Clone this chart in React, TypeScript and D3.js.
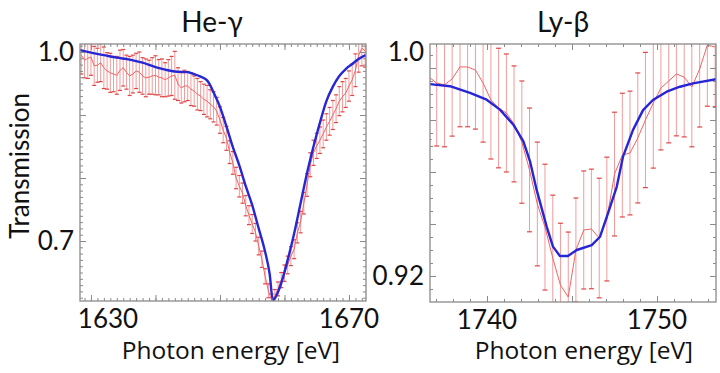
import React, { useEffect, useRef } from 'react'
import * as d3 from 'd3'

// He-gamma: measured transmission (0.5 eV steps), its error, and the fit
const heEnergy = [
  1628.5, 1629.0, 1629.5, 1630.0, 1630.5, 1631.0, 1631.5, 1632.0, 1632.5, 1633.0,
  1633.5, 1634.0, 1634.5, 1635.0, 1635.5, 1636.0, 1636.5, 1637.0, 1637.5, 1638.0,
  1638.5, 1639.0, 1639.5, 1640.0, 1640.5, 1641.0, 1641.5, 1642.0, 1642.5, 1643.0,
  1643.5, 1644.0, 1644.5, 1645.0, 1645.5, 1646.0, 1646.5, 1647.0, 1647.5, 1648.0,
  1648.5, 1649.0, 1649.5, 1650.0, 1650.5, 1651.0, 1651.5, 1652.0, 1652.5, 1653.0,
  1653.5, 1654.0, 1654.5, 1655.0, 1655.5, 1656.0, 1656.5, 1657.0, 1657.5, 1658.0,
  1658.5, 1659.0, 1659.5, 1660.0, 1660.5, 1661.0, 1661.5, 1662.0, 1662.5, 1663.0,
  1663.5, 1664.0, 1664.5, 1665.0, 1665.5, 1666.0, 1666.5, 1667.0, 1667.5, 1668.0,
  1668.5, 1669.0, 1669.5, 1670.0, 1670.5, 1671.0, 1671.5, 1672.0, 1672.5,
]
const heValue = [
  0.995, 0.987, 0.990, 0.992, 0.978, 0.979, 0.983, 0.975, 0.970, 0.967,
  0.965, 0.963, 0.971, 0.975, 0.968, 0.962, 0.965, 0.970, 0.968, 0.962,
  0.959, 0.960, 0.962, 0.963, 0.960, 0.959, 0.956, 0.959, 0.962, 0.963,
  0.949, 0.943, 0.946, 0.946, 0.941, 0.938, 0.933, 0.930, 0.925, 0.922,
  0.917, 0.913, 0.906, 0.892, 0.876, 0.863, 0.841, 0.824, 0.800, 0.787,
  0.776, 0.756, 0.741, 0.727, 0.714, 0.692, 0.671, 0.644, 0.621, 0.606,
  0.613, 0.624, 0.638, 0.649, 0.662, 0.676, 0.687, 0.713, 0.730, 0.760,
  0.789, 0.821, 0.840, 0.851, 0.860, 0.870, 0.881, 0.890, 0.900, 0.910,
  0.922, 0.929, 0.935, 0.946, 0.956, 0.971, 0.995, 1.006, 1.002,
]
const heError = [
  0.030, 0.028, 0.032, 0.029, 0.031, 0.027, 0.030, 0.033, 0.029, 0.031,
  0.028, 0.030, 0.032, 0.029, 0.027, 0.031, 0.030, 0.028, 0.032, 0.029,
  0.030, 0.027, 0.029, 0.031, 0.028, 0.030, 0.027, 0.029, 0.031, 0.038,
  0.026, 0.024, 0.025, 0.023, 0.026, 0.024, 0.025, 0.023, 0.024, 0.025,
  0.023, 0.024, 0.022, 0.021, 0.020, 0.019, 0.018, 0.018, 0.017, 0.017,
  0.016, 0.016, 0.015, 0.015, 0.014, 0.014, 0.013, 0.012, 0.011, 0.010,
  0.010, 0.011, 0.012, 0.013, 0.014, 0.015, 0.015, 0.016, 0.017, 0.017,
  0.018, 0.019, 0.020, 0.020, 0.021, 0.022, 0.021, 0.022, 0.023, 0.022,
  0.023, 0.024, 0.023, 0.024, 0.025, 0.026, 0.027, 0.028, 0.026,
]
const heFitEnergy = [
  1628.3, 1630, 1632, 1634, 1636, 1638, 1640, 1641.5, 1643, 1645,
  1646, 1647, 1648, 1648.5, 1649, 1650, 1651, 1652, 1653, 1654, 1655,
  1656, 1657, 1657.7, 1658.2, 1659.3, 1660.5, 1661.5, 1662.5, 1663.5, 1664.5,
  1665.5, 1666.5, 1667.5, 1668.5, 1669.5, 1670.5, 1671.5, 1672.6,
]
const heFitValue = [
  1.003, 0.999, 0.995, 0.991, 0.988, 0.983, 0.976, 0.972, 0.969, 0.968,
  0.965, 0.961, 0.955, 0.947, 0.936, 0.913, 0.882, 0.849, 0.820, 0.787, 0.757,
  0.720, 0.683, 0.648, 0.606, 0.627, 0.670, 0.712, 0.760, 0.808, 0.850,
  0.888, 0.922, 0.945, 0.962, 0.973, 0.981, 0.989, 0.995,
]

// Ly-beta
const lyEnergy = [
  1736.59, 1737.04, 1737.50, 1737.95, 1738.41, 1738.86, 1739.32, 1739.77, 1740.23, 1740.68,
  1741.14, 1741.59, 1742.05, 1742.50, 1742.96, 1743.41, 1743.87, 1744.32, 1744.78, 1745.23,
  1745.69, 1746.14, 1746.60, 1747.05, 1747.50, 1747.96, 1748.41, 1748.87, 1749.32, 1749.78,
  1750.23, 1750.69, 1751.14, 1751.60, 1752.05, 1752.51, 1752.96, 1753.42,
]
const lyValue = [
  0.9965, 0.9942, 0.9935, 0.9958, 1.0004, 1.0004, 0.9992, 0.9942, 0.9877, 0.9846,
  0.9827, 0.9785, 0.9715, 0.9608, 0.9477, 0.9388, 0.9269, 0.9165, 0.9119, 0.9300,
  0.9377, 0.9381, 0.9346, 0.9419, 0.9592, 0.9665, 0.9673, 0.9731, 0.9800, 0.9865,
  0.9923, 0.9950, 0.9977, 0.9965, 0.9927, 0.9996, 1.0088, 1.0081,
]
const lyError = [
  0.0240, 0.0242, 0.0238, 0.0220, 0.0230, 0.0230, 0.0227, 0.0227, 0.0227, 0.0230,
  0.0227, 0.0223, 0.0235, 0.0238, 0.0238, 0.0242, 0.0242, 0.0238, 0.0250, 0.0200,
  0.0227, 0.0230, 0.0230, 0.0238, 0.0238, 0.0238, 0.0238, 0.0250, 0.0260, 0.0250,
  0.0238, 0.0238, 0.0238, 0.0230, 0.0230, 0.0223, 0.0235, 0.0230,
]
const lyFitEnergy = [
  1736.65, 1737.82, 1739.00, 1739.98, 1740.76, 1741.55, 1742.14, 1742.53, 1742.92, 1743.51,
  1743.88, 1744.29, 1744.76, 1745.28, 1746.16, 1746.65, 1747.12, 1747.63, 1748.00, 1748.59,
  1749.18, 1749.76, 1750.57, 1751.35, 1752.12, 1753.47,
]
const lyFitValue = [
  0.9938, 0.9930, 0.9904, 0.9878, 0.9840, 0.9782, 0.9718, 0.9641, 0.9531, 0.9390,
  0.9313, 0.9277, 0.9277, 0.9300, 0.9319, 0.9351, 0.9442, 0.9543, 0.9659, 0.9762,
  0.9838, 0.9877, 0.9909, 0.9928, 0.9941, 0.9957,
]

const heXTicks = [1630, 1670]
const heYTicks = [1.0, 0.7]
const heYLabels = ['1.0', '0.7']
const lyXTicks = [1740, 1750]
const lyYTicks = [1.0, 0.92]
const lyYLabels = ['1.0', '0.92']

const FONT = 'Lato, "Open Sans", sans-serif'
const TITLE_FONT = '"Open Sans", Lato, sans-serif'
const FRAME = '#8a8a8a'

const drawPanel = (svg, p) => {
  const { left, right, top, bottom } = p.box
  const x = d3.scaleLinear().domain(p.xDomain).range([left, right])
  const y = d3.scaleLinear().domain(p.yDomain).range([bottom, top])

  const g = svg.append('g')
  const clipId = 'clip-' + p.id
  g.append('clipPath').attr('id', clipId)
    .append('rect')
    .attr('x', left).attr('y', top)
    .attr('width', right - left).attr('height', bottom - top)

  const data = p.energy.map((e, i) => ({ e, v: p.value[i], err: p.error[i] }))
  const plot = g.append('g').attr('clip-path', `url(#${clipId})`)

  // error bars
  plot.selectAll('.bar')
    .data(data)
    .enter()
    .append('line')
    .attr('x1', d => x(d.e)).attr('x2', d => x(d.e))
    .attr('y1', d => y(d.v - d.err)).attr('y2', d => y(d.v + d.err))
    .attr('stroke', '#f29b9b')
    .attr('stroke-width', p.barWidth)

  const caps = data.flatMap(d => [
    { e: d.e, v: d.v - d.err },
    { e: d.e, v: d.v + d.err },
  ])
  plot.selectAll('.cap')
    .data(caps)
    .enter()
    .append('line')
    .attr('x1', d => x(d.e) - p.cap).attr('x2', d => x(d.e) + p.cap)
    .attr('y1', d => y(d.v)).attr('y2', d => y(d.v))
    .attr('stroke', '#e04545')
    .attr('stroke-width', 1.2)

  // measured line
  plot.append('path')
    .datum(data)
    .attr('fill', 'none')
    .attr('stroke', '#f06464')
    .attr('stroke-width', 1)
    .attr('d', d3.line().x(d => x(d.e)).y(d => y(d.v)))

  // fit
  const fit = p.fitEnergy.map((e, i) => ({ e, v: p.fitValue[i] }))
  plot.append('path')
    .datum(fit)
    .attr('fill', 'none')
    .attr('stroke', '#2626d6')
    .attr('stroke-width', 2.4)
    .attr('stroke-linejoin', 'round')
    .attr('d', d3.line().curve(p.curve).x(d => x(d.e)).y(d => y(d.v)))

  // ticks on all four sides, pointing inward
  const tickStyle = sel => {
    sel.select('.domain').remove()
    sel.selectAll('line').attr('stroke', FRAME)
    sel.selectAll('text').remove()
  }
  const xMinor = d3.range(Math.ceil(p.xDomain[0]), p.xDomain[1], p.xMinor)
  const yMinor = d3.range(p.yMinorStart, p.yDomain[1], p.yMinor)
  const axes = [
    [d3.axisBottom(x), `translate(0,${bottom})`, p.xMajor, xMinor],
    [d3.axisTop(x), `translate(0,${top})`, p.xMajor, xMinor],
    [d3.axisLeft(y), `translate(${left},0)`, p.yMajor, yMinor],
    [d3.axisRight(y), `translate(${right},0)`, p.yMajor, yMinor],
  ]
  axes.forEach(([axis, tr, major, minor]) => {
    g.append('g').attr('transform', tr)
      .call(axis.tickValues(minor).tickSize(-3))
      .call(tickStyle)
    g.append('g').attr('transform', tr)
      .call(axis.tickValues(major).tickSize(-6))
      .call(tickStyle)
  })

  g.append('rect')
    .attr('x', left).attr('y', top)
    .attr('width', right - left).attr('height', bottom - top)
    .attr('fill', 'none')
    .attr('stroke', FRAME)
    .attr('stroke-width', 1.3)

  // tick labels (kept inside the frame span)
  g.selectAll('.xl')
    .data(p.xTicks)
    .enter()
    .append('text')
    .attr('x', d => Math.max(x(d), left + 28))
    .attr('y', bottom + 27)
    .attr('text-anchor', 'middle')
    .attr('font-family', FONT)
    .attr('font-size', 26)
    .attr('fill', '#111')
    .text(d => d)

  g.selectAll('.yl')
    .data(p.yTicks)
    .enter()
    .append('text')
    .attr('x', left - 6)
    .attr('y', d => (y(d) - top < 30 ? top + 8 : y(d)))
    .attr('dy', '0.36em')
    .attr('text-anchor', 'end')
    .attr('font-family', FONT)
    .attr('font-size', 26)
    .attr('fill', '#111')
    .text((d, i) => p.yLabels[i])

  g.append('text')
    .attr('x', p.titleX)
    .attr('y', 32)
    .attr('text-anchor', 'middle')
    .attr('font-family', FONT)
    .attr('font-size', 28)
    .attr('fill', '#111')
    .text(p.title)

  g.append('text')
    .attr('x', p.xTitleX)
    .attr('y', 359)
    .attr('text-anchor', 'middle')
    .attr('font-family', TITLE_FONT)
    .attr('font-size', 24.5)
    .attr('fill', '#111')
    .text('Photon energy [eV]')
}

const App = () => {
  const svgRef = useRef()

  useEffect(() => {
    const svg = d3.select(svgRef.current)
    svg.selectAll('*').remove()

    drawPanel(svg, {
      id: 'he',
      box: { left: 80, right: 366, top: 44, bottom: 301 },
      xDomain: [1628.3, 1672.64],
      yDomain: [0.6048, 1.0127],
      energy: heEnergy, value: heValue, error: heError,
      fitEnergy: heFitEnergy, fitValue: heFitValue,
      curve: d3.curveMonotoneX,
      barWidth: 1, cap: 2,
      xMajor: [1630, 1640, 1650, 1660, 1670], xMinor: 1,
      yMajor: [0.7, 0.8, 0.9, 1.0], yMinor: 0.01, yMinorStart: 0.61,
      xTicks: heXTicks, yTicks: heYTicks, yLabels: heYLabels,
      title: 'He-γ', titleX: 212, xTitleX: 231,
    })

    drawPanel(svg, {
      id: 'ly',
      box: { left: 430, right: 716, top: 44, bottom: 302 },
      xDomain: [1736.647, 1753.47],
      yDomain: [0.91, 1.00923],
      energy: lyEnergy, value: lyValue, error: lyError,
      fitEnergy: lyFitEnergy, fitValue: lyFitValue,
      curve: d3.curveLinear,
      barWidth: 1, cap: 2.5,
      xMajor: [1740, 1745, 1750], xMinor: 1,
      yMajor: [0.92, 0.94, 0.96, 0.98, 1.0], yMinor: 0.005, yMinorStart: 0.915,
      xTicks: lyXTicks, yTicks: lyYTicks, yLabels: lyYLabels,
      title: 'Ly-β', titleX: 563, xTitleX: 584,
    })

    svg.append('text')
      .attr('transform', 'translate(29,166) rotate(-90)')
      .attr('text-anchor', 'middle')
      .attr('font-family', FONT)
      .attr('font-size', 26)
      .attr('fill', '#111')
      .text('Transmission')
  }, [])

  return (
    <svg ref={svgRef} width={720} height={373}
      style={{ position: 'absolute', left: 0, top: 0, background: '#fff' }} />
  )
}

export default App
